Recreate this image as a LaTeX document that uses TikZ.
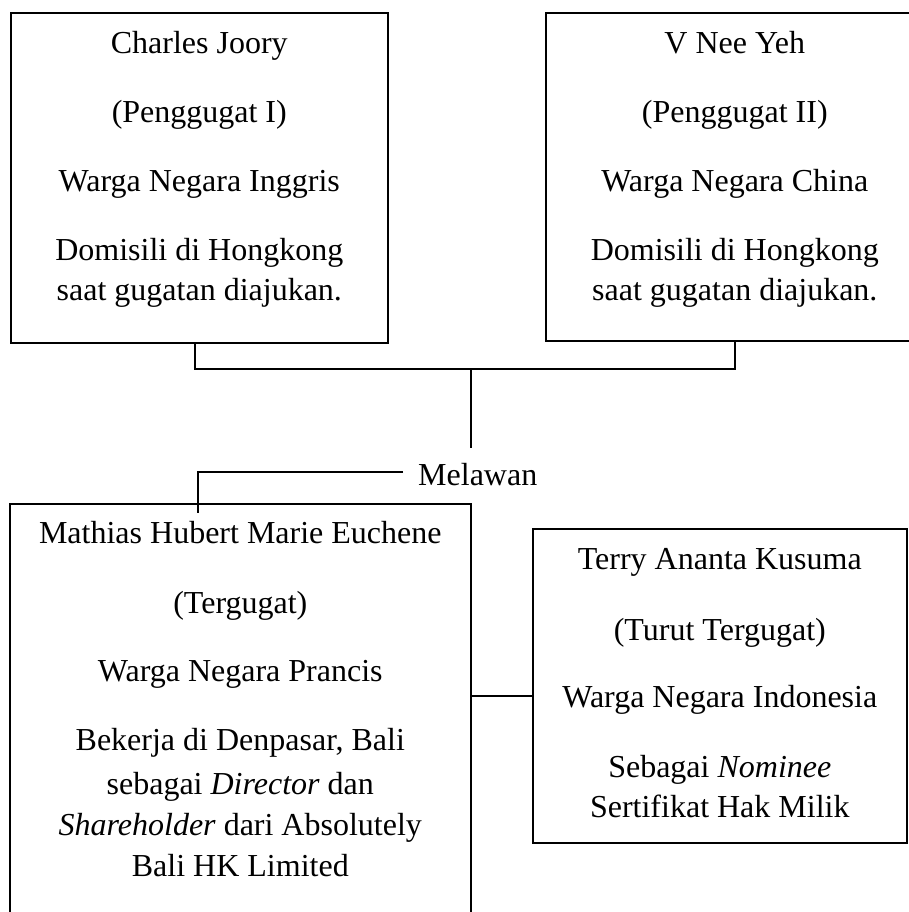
\documentclass[tikz,border=0pt]{standalone}
\usepackage{fontspec}
\setmainfont{Liberation Serif}
\tikzset{
  kotak/.style={draw,line width=1.6pt,rectangle,inner sep=0pt,anchor=north west},
  isi/.style={align=center,inner sep=0pt,anchor=north,font=\fontsize{32}{40}\selectfont},
  garis/.style={line width=1.6pt}
}
\begin{document}
\begin{tikzpicture}[x=1pt,y=-1pt]
\useasboundingbox (0,0) rectangle (909,912);
\clip (0,0) rectangle (909,912);
% penggugat
\node[kotak,minimum width=377pt,minimum height=330pt] (p1) at (10,12) {};
\node[kotak,minimum width=378pt,minimum height=328pt] (p2) at (545,12) {};
\node[isi] (p1t) at ([yshift=-19pt]p1.north) {Charles Joory\\[29pt] (Penggugat I)\\[29pt]
  Warga Negara Inggris\\[29pt] Domisili di Hongkong\\ saat gugatan diajukan.};
\node[isi] (p2t) at ([yshift=-19pt]p2.north) {V Nee Yeh\\[29pt] (Penggugat II)\\[29pt]
  Warga Negara China\\[29pt] Domisili di Hongkong\\ saat gugatan diajukan.};
% tergugat
\node[kotak,minimum width=461pt,minimum height=422pt] (t1) at (9,503) {};
\node[kotak,minimum width=374pt,minimum height=314pt] (t2) at (532,528) {};
\node[isi] (t1t) at ([yshift=-18pt]t1.north) {Mathias Hubert Marie Euchene\\[30pt] (Tergugat)\\[28pt]
  Warga Negara Prancis\\[29pt] Bekerja di Denpasar, Bali\\[4pt] sebagai \textit{Director} dan\\[1pt]
  \textit{Shareholder} dari Absolutely\\[1pt] Bali HK Limited};
\node[isi] (t2t) at ([yshift=-20pt]t2.north) {Terry Ananta Kusuma\\[31pt] (Turut Tergugat)\\[27pt]
  Warga Negara Indonesia\\[30pt] Sebagai \textit{Nominee}\\ Sertifikat Hak Milik};
\node[font=\fontsize{32}{40}\selectfont,inner sep=0pt,anchor=west] (melawan) at (418,475) {Melawan};
% garis penghubung
\coordinate (kiri) at (195,369);
\coordinate (kanan) at (735,369);
\coordinate (tengah) at (471,369);
\coordinate (tik) at (198,513);
\coordinate (sambung) at (500,696);
\draw[garis] (kiri |- p1.south) -- (kiri) -- (kanan) -- (kanan |- p2.south);
\draw[garis] (tengah) -- ([yshift=16pt]melawan.north -| tengah);
\draw[garis] ([xshift=-15pt,yshift=3pt]melawan.west) -- ([yshift=3pt]melawan.west -| tik) -- (tik);
\draw[garis] (sambung -| t1.east) -- (sambung -| t2.west);
\end{tikzpicture}
\end{document}
